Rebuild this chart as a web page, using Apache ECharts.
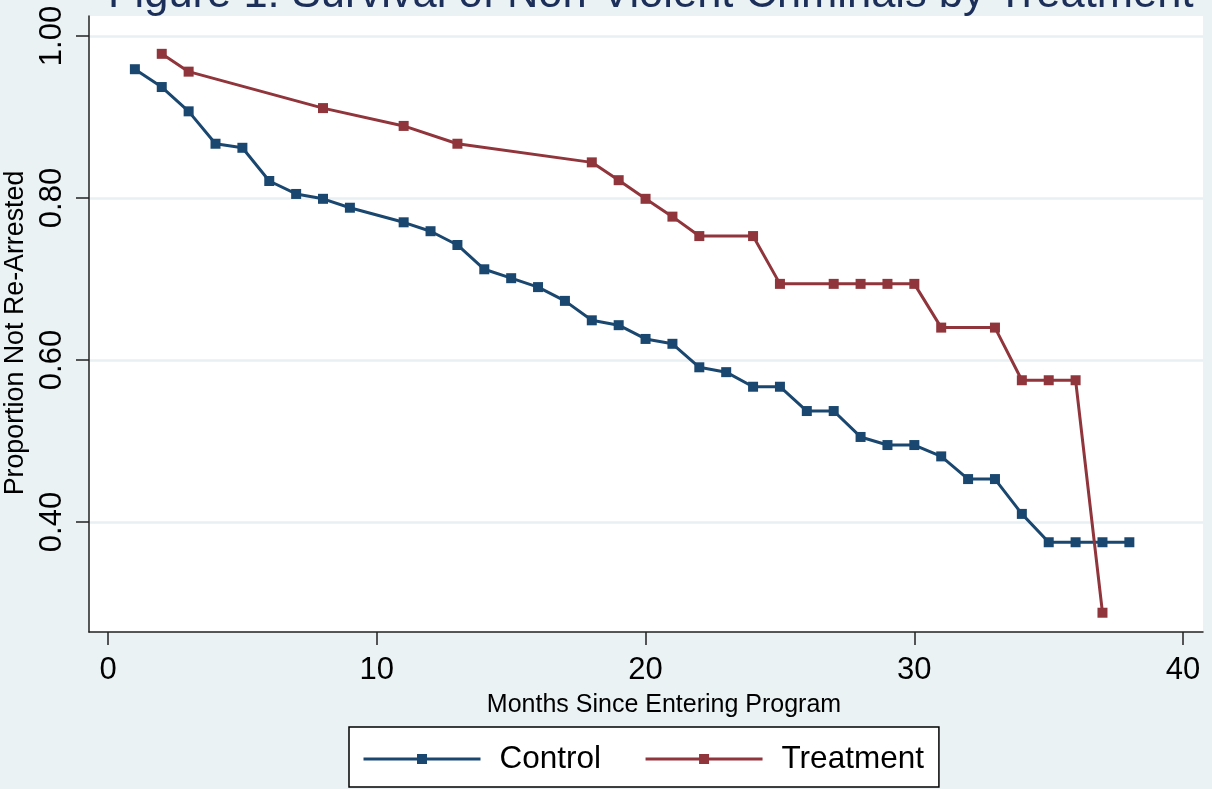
<!DOCTYPE html>
<html>
<head>
<meta charset="utf-8">
<script src="https://cdn.jsdelivr.net/npm/echarts@6/dist/echarts.min.js"></script>
<style>
html,body{margin:0;padding:0;background:#eaf2f3;}
#chart{width:1212px;height:789px;}
</style>
</head>
<body>
<div id="chart"></div>
<script>
// ---- data ----
const titleText = "Figure 1: Survival of Non-Violent Criminals by Treatment";
const xAxisTitle = "Months Since Entering Program";
const yAxisTitle = "Proportion Not Re-Arrested";
const seriesNames = ["Control", "Treatment"];

const controlMonths = [1,2,3,4,5,6,7,8,9,11,12,13,14,15,16,17,18,19,20,21,22,23,24,25,26,27,28,29,30,31,32,33,34,35,36,37,38];
const controlValues = [0.959,0.937,0.907,0.867,0.862,0.821,0.805,0.799,0.788,0.770,0.759,0.742,0.712,0.701,0.690,0.673,0.649,0.643,0.626,0.620,0.591,0.585,0.567,0.567,0.537,0.537,0.505,0.495,0.495,0.481,0.453,0.453,0.410,0.375,0.375,0.375,0.375];

const treatmentMonths = [2,3,8,11,13,18,19,20,21,22,24,25,27,28,29,30,31,33,34,35,36,37];
const treatmentValues = [0.978,0.956,0.911,0.889,0.867,0.844,0.822,0.799,0.777,0.753,0.753,0.694,0.694,0.694,0.694,0.694,0.640,0.640,0.575,0.575,0.575,0.288];

const xTicks = [0,10,20,30,40];
const yTicks = [0.4,0.6,0.8,1.0];

// ---- chart ----
const pairs = (xs, ys) => xs.map((x, i) => [x, ys[i]]);
const chart = echarts.init(document.getElementById('chart'), null, {renderer: 'canvas'});
const FONT = "'Liberation Sans', Arial, Helvetica, sans-serif";
const colors = ['#1a476f', '#90353b'];

chart.setOption({
  animation: false,
  backgroundColor: '#eaf2f3',
  textStyle: {fontFamily: FONT},
  title: {
    text: titleText,
    left: 108,
    top: -27,
    padding: 0,
    textStyle: {fontFamily: FONT, fontSize: 43.5, fontWeight: 'normal', color: '#1c2f5a'}
  },
  grid: {left: 89, right: 9, top: 16, bottom: 157, show: true, backgroundColor: '#ffffff', borderWidth: 0,
    containLabel: false, outerBoundsMode: 'none'},
  legend: {
    data: seriesNames,
    left: 349,
    top: 727,
    orient: 'horizontal',
    padding: [16, 15, 12, 13],
    itemWidth: 117,
    itemHeight: 12.5,
    itemGap: 43,
    backgroundColor: '#ffffff',
    borderColor: '#000000',
    borderWidth: 1.5,
    borderRadius: 0,
    lineStyle: {width: 3},
    textStyle: {fontFamily: FONT, fontSize: 31.5, color: '#000', padding: [0, 0, 0, 14]}
  },
  xAxis: {
    type: 'value',
    min: -0.707,
    max: 40.74,
    name: xAxisTitle,
    nameLocation: 'middle',
    nameGap: 61,
    nameTextStyle: {fontFamily: FONT, fontSize: 25, color: '#000', padding: [0, 0, 0, 36]},
    axisLine: {show: true, onZero: false, lineStyle: {color: '#222', width: 1.5}},
    axisTick: {show: true, inside: false, length: 13, customValues: xTicks, lineStyle: {color: '#222', width: 1.5}},
    axisLabel: {show: true, customValues: xTicks, margin: 23, fontFamily: FONT, fontSize: 31, color: '#000'},
    splitLine: {show: false}
  },
  yAxis: {
    type: 'value',
    min: 0.2642,
    max: 1.0247,
    name: yAxisTitle,
    nameLocation: 'middle',
    nameGap: 55,
    nameTextStyle: {fontFamily: FONT, fontSize: 26.8, color: '#000', padding: [0, 18, 0, 0]},
    axisLine: {show: true, onZero: false, lineStyle: {color: '#222', width: 1.5}},
    axisTick: {show: true, inside: false, length: 13, customValues: yTicks, lineStyle: {color: '#222', width: 1.5}},
    axisLabel: {show: true, customValues: yTicks, rotate: 90, margin: 21, fontFamily: FONT, fontSize: 31, color: '#000',
      formatter: v => v.toFixed(2)},
    splitLine: {show: true, lineStyle: {color: '#e8f0f2', width: 2.5}}
  },
  series: [
    {
      name: seriesNames[0], type: 'line', data: pairs(controlMonths, controlValues),
      symbol: 'rect', symbolSize: 10, showSymbol: true,
      lineStyle: {color: colors[0], width: 3}, itemStyle: {color: colors[0]}, z: 3
    },
    {
      name: seriesNames[1], type: 'line', data: pairs(treatmentMonths, treatmentValues),
      symbol: 'rect', symbolSize: 10, showSymbol: true,
      lineStyle: {color: colors[1], width: 3}, itemStyle: {color: colors[1]}, z: 4
    }
  ]
});
</script>
</body>
</html>
